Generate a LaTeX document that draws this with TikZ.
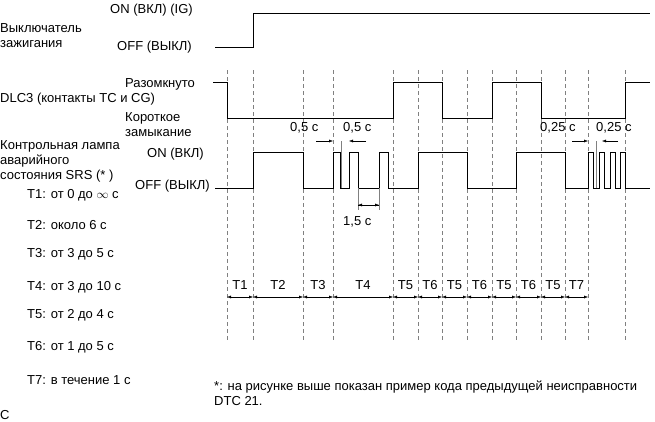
\documentclass[tikz,border=0pt]{standalone}
\usepackage{fontspec}
\setmainfont{Liberation Sans}
\usetikzlibrary{arrows.meta}
\begin{document}
\begin{tikzpicture}[x=1pt,y=-1pt,
 lbl/.style={anchor=west,inner sep=0pt,font=\fontsize{13}{15}\selectfont,align=left},
 wave/.style={line width=0.8pt},
 guide/.style={dashed,gray,line width=0.4pt,dash pattern=on 4pt off 3pt},
 dim/.style={-{Latex[length=4pt,width=3pt]},line width=0.4pt}]
\useasboundingbox (0,0) rectangle (655,421);
% guides
\foreach \x in {227,253,303,333,393,418,442,467,492,516,541,565,588,625}
  \draw[guide] (\x,70) -- (\x,340);
% IG
\draw[wave] (215,47) -- (253,47) -- (253,13) -- (650,13);
% DLC3
\draw[wave] (213,82) -- (227,82) -- (227,118) -- (393,118) -- (393,82) -- (442,82) -- (442,118) -- (492,118) -- (492,82) -- (541,82) -- (541,118) -- (625,118) -- (625,82) -- (650,82);
% lamp
\draw[wave] (215,188) -- (253,188) -- (253,152) -- (303,152) -- (303,188) -- (333,188) -- (333,152) -- (340,152) -- (340,188) -- (349,188) -- (349,152) -- (358,152) -- (358,188) -- (379,188) -- (379,152) -- (388,152) -- (388,188) -- (418,188) -- (418,152) -- (467,152) -- (467,188) -- (516,188) -- (516,152) -- (565,152) -- (565,188) -- (588,188) -- (588,152) -- (593,152) -- (593,188) -- (599,188) -- (599,152) -- (604,152) -- (604,188) -- (610,188) -- (610,152) -- (615,152) -- (615,188) -- (620,188) -- (620,152) -- (625,152) -- (625,188) -- (650,188);
% dims
\coordinate (a1) at (316,141); \coordinate (a2) at (333,141);
\coordinate (b1) at (366,141); \coordinate (b2) at (349,141);
\draw[dim] (a1) -- (a2); \draw[dim] (b1) -- (b2);
\draw[gray,line width=0.4pt] (341,141) -- (341,188);
\draw[gray,line width=0.4pt] (358,188) -- (358,210);
\draw[gray,line width=0.4pt] (379,188) -- (379,210);
\coordinate (c1) at (358,205); \coordinate (c2) at (379,205);
\draw[dim] (c1) -- (c2); \draw[dim] (c2) -- (c1);
\coordinate (d1) at (572,141); \coordinate (d2) at (588,141);
\coordinate (e1) at (618,141); \coordinate (e2) at (602,141);
\draw[dim] (d1) -- (d2); \draw[dim] (e1) -- (e2);
\draw[gray,line width=0.4pt] (596,141) -- (596,188);
\node[lbl] (l05a) at (290,128) {0,5 с};
\node[lbl] (l05b) at (343,128) {0,5 с};
\node[lbl] (l15) at (343,222) {1,5 с};
\node[lbl] (l25a) at (540,128) {0,25 с};
\node[lbl] (l25b) at (596,128) {0,25 с};
% T row
\foreach \a/\b/\t in {227/253/T1,253/303/T2,303/333/T3,333/393/T4,393/418/T5,418/442/T6,442/467/T5,467/492/T6,492/516/T5,516/541/T6,541/565/T5,565/588/T7}{
  \draw[dim] ({(\a+\b)/2},297) -- (\a,297);
  \draw[dim] ({(\a+\b)/2},297) -- (\b,297);
  \node[lbl,anchor=center] at ({(\a+\b)/2},285) {\t};}
% labels
\node[lbl] (ig) at (0,36) {Выключатель\\зажигания};
\node[lbl] (on1) at (110,10) {ON (ВКЛ) (IG)};
\node[lbl] (off1) at (117,47) {OFF (ВЫКЛ)};
\node[lbl] (raz) at (125,84) {Разомкнуто};
\node[lbl] (dlc) at (0,99) {DLC3 (контакты TC и CG)};
\node[lbl] (kz) at (125,125) {Короткое\\замыкание};
\node[lbl] (lamp) at (0,161) {Контрольная лампа\\аварийного\\состояния SRS (* )};
\node[lbl] (on2) at (147,154) {ON (ВКЛ)};
\node[lbl] (off2) at (135,186) {OFF (ВЫКЛ)};
\node[lbl] (t1) at (27,195) {T1: от 0 до $\infty$ с};
\node[lbl] (t2) at (27,225) {T2: около 6 с};
\node[lbl] (t3) at (27,254) {T3: от 3 до 5 с};
\node[lbl] (t4) at (27,287) {T4: от 3 до 10 с};
\node[lbl] (t5) at (27,315) {T5: от 2 до 4 с};
\node[lbl] (t6) at (27,347) {T6: от 1 до 5 с};
\node[lbl] (t7) at (27,380) {T7: в течение 1 с};
\node[lbl] (fn) at (214,393) {*: на рисунке выше показан пример кода предыдущей неисправности\\DTC 21.};
\node[lbl] (c) at (0,415) {C};
\end{tikzpicture}
\end{document}
